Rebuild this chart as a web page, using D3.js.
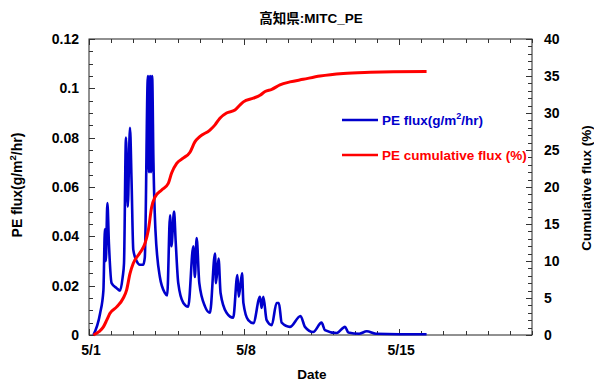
<!DOCTYPE html>
<html>
<head>
<meta charset="utf-8">
<script src="https://cdn.jsdelivr.net/npm/d3@7"></script>
<style>
  html, body { margin: 0; padding: 0; background: #fff; }
  svg { display: block; }
  text { font-family: "Liberation Sans", "Noto Sans CJK JP", sans-serif; font-weight: bold; }
</style>
</head>
<body>
<svg id="chart" width="594" height="383"></svg>
<script>
// Hourly PE flux (g/m2/hr), time in days after 5/1 00:00
const fluxDays = [0.20, 0.50, 0.65, 0.72, 0.76, 0.83, 0.90, 1.02, 1.25, 1.40, 1.52, 1.58,
  1.67, 1.75, 1.85, 1.92, 2.00, 2.15, 2.30, 2.45, 2.52, 2.66, 2.71, 2.76, 2.80, 2.85, 2.91,
  3.00, 3.20, 3.43, 3.53, 3.66, 3.72, 3.84, 3.91, 4.03, 4.26, 4.48, 4.71, 4.78, 4.86, 4.98,
  5.24, 5.46, 5.69, 5.73, 5.85, 5.94, 6.21, 6.51, 6.70, 6.76, 6.91, 6.97, 7.19, 7.42, 7.72,
  7.79, 7.87, 8.02, 8.25, 8.47, 8.57, 8.70, 9.07, 9.55, 9.75, 10.12, 10.50, 10.65, 11.18,
  11.56, 11.71, 12.20, 12.54, 12.95, 14.00, 15.24];
const fluxValues = [0, 0.0087, 0.018, 0.043, 0.030, 0.0535, 0.037, 0.021, 0.019, 0.018, 0.0235, 0.029,
  0.080, 0.052, 0.084, 0.063, 0.0345, 0.030, 0.0285, 0.0285, 0.0315, 0.105, 0.066, 0.105, 0.066, 0.105, 0.070,
  0.0425, 0.0235, 0.017, 0.016, 0.0485, 0.036, 0.050, 0.0385, 0.021, 0.013, 0.0115, 0.036, 0.0235, 0.0393, 0.021,
  0.0115, 0.009, 0.033, 0.021, 0.031, 0.017, 0.009, 0.007, 0.0243, 0.0155, 0.025, 0.013, 0.006, 0.0048, 0.0155,
  0.011, 0.0155, 0.006, 0.004, 0.013, 0.013, 0.005, 0.0033, 0.0077, 0.0033, 0.0012, 0.005, 0.002, 0.0008,
  0.0033, 0.0010, 0.0005, 0.0015, 0.0005, 0.0003, 0.0003];

// Cumulative PE flux (% of applied)
const cumDays = [0.20, 0.45, 0.65, 0.80, 0.94, 1.25, 1.55, 1.70, 1.85, 2.00, 2.30, 2.53, 2.68, 2.83,
  2.98, 3.28, 3.58, 3.73, 3.96, 4.25, 4.56, 4.78, 5.00, 5.46, 5.69, 5.91, 6.21, 6.59, 6.82, 6.97,
  7.42, 7.72, 7.95, 8.25, 8.62, 9.07, 9.67, 10.43, 11.48, 12.69, 13.74, 15.24];
const cumValues = [0, 0.45, 1.1, 2.0, 2.9, 3.8, 5.0, 6.1, 8.3, 9.7, 11.1, 12.4, 14.2, 17.3,
  18.65, 19.6, 20.5, 21.9, 23.2, 23.9, 24.7, 26.1, 26.8, 27.7, 28.4, 29.3, 30.0, 30.4, 31.1, 31.5,
  32.0, 32.4, 32.9, 33.2, 33.8, 34.2, 34.55, 35.0, 35.35, 35.5, 35.57, 35.6];

// Axis ticks and labels
const dateTickDays = [0, 7, 14];
const dateTickLabels = ["5/1", "5/8", "5/15"];
const fluxTicks = [0, 0.02, 0.04, 0.06, 0.08, 0.1, 0.12];
const fluxTickLabels = ["0", "0.02", "0.04", "0.06", "0.08", "0.1", "0.12"];
const cumTicks = [0, 5, 10, 15, 20, 25, 30, 35, 40];

const titleText = "高知県:MITC_PE";
const legendNames = ["PE flux(g/m", "PE cumulative flux (%)"];

const svg = d3.select("#chart");
const L = 89, R = 532, T = 39, B = 335;
const blue = "#0000cc", red = "#ff0000";

const x = d3.scaleLinear().domain([0, 20]).range([L, R]);
const yL = d3.scaleLinear().domain([0, 0.12]).range([B, T]);
const yR = d3.scaleLinear().domain([0, 40]).range([B, T]);

// Frame
svg.append("rect").attr("x", L).attr("y", T).attr("width", R - L).attr("height", B - T)
  .attr("fill", "none").attr("stroke", "#222").attr("stroke-width", 1);

const tickG = svg.append("g").attr("stroke", "#333").attr("stroke-width", 1);
// x ticks: every day, inward on bottom and top
d3.range(0, 21).forEach(d => {
  const len = dateTickDays.includes(d) ? 6 : 4;
  const xp = Math.round(x(d)) + 0.5;
  tickG.append("line").attr("x1", xp).attr("x2", xp).attr("y1", B).attr("y2", B - len);
  tickG.append("line").attr("x1", xp).attr("x2", xp).attr("y1", T).attr("y2", T + len);
});
// left ticks every 0.005
d3.range(0, 25).forEach(i => {
  const v = i * 0.005;
  const yp = Math.round(yL(v)) + 0.5;
  const len = i % 4 === 0 ? 6 : 4;
  tickG.append("line").attr("x1", L).attr("x2", L + len).attr("y1", yp).attr("y2", yp);
});
// right ticks every 1
d3.range(0, 41).forEach(v => {
  const yp = Math.round(yR(v)) + 0.5;
  const len = v % 5 === 0 ? 6 : 4;
  tickG.append("line").attr("x1", R).attr("x2", R - len).attr("y1", yp).attr("y2", yp);
});

// Tick labels
svg.append("g").selectAll("text").data(fluxTicks).join("text")
  .attr("x", 79).attr("y", d => yL(d)).attr("dy", "0.36em")
  .attr("text-anchor", "end").attr("font-size", 14).attr("fill", "#000")
  .text((d, i) => fluxTickLabels[i]);
svg.append("g").selectAll("text").data(cumTicks).join("text")
  .attr("x", 544).attr("y", d => yR(d)).attr("dy", "0.36em")
  .attr("text-anchor", "start").attr("font-size", 14).attr("fill", "#000")
  .text(d => d === 0 ? "0" : d);
svg.append("g").selectAll("text").data(dateTickDays).join("text")
  .attr("x", d => x(d) + 2).attr("y", 355)
  .attr("text-anchor", "middle").attr("font-size", 14).attr("fill", "#000")
  .text((d, i) => dateTickLabels[i]);

// Titles
svg.append("text").attr("x", 311).attr("y", 23).attr("text-anchor", "middle")
  .attr("font-size", 13.5).attr("font-family", "'Noto Sans CJK JP', sans-serif")
  .attr("font-weight", 900)
  .text(titleText);
svg.append("text").attr("x", 312).attr("y", 379).attr("text-anchor", "middle")
  .attr("font-size", 13.5).text("Date");

const yTitle = svg.append("text").attr("transform", "translate(22,185) rotate(-90)")
  .attr("text-anchor", "middle").attr("font-size", 14);
yTitle.append("tspan").text("PE flux(g/m");
yTitle.append("tspan").attr("font-size", 9.5).attr("dy", -6).text("2");
yTitle.append("tspan").attr("dy", 6).text("/hr)");

svg.append("text").attr("transform", "translate(591,188) rotate(-90)")
  .attr("text-anchor", "middle").attr("font-size", 13.5).text("Cumulative flux (%)");

// Series lines
const fluxLine = d3.line().x((d, i) => x(fluxDays[i])).y(d => yL(d)).curve(d3.curveMonotoneX);
const cumLine = d3.line().x((d, i) => x(cumDays[i])).y(d => yR(d)).curve(d3.curveMonotoneX);

svg.append("path").datum(fluxValues).attr("d", fluxLine)
  .attr("fill", "none").attr("stroke", blue).attr("stroke-width", 2.6).attr("stroke-linejoin", "round");
svg.append("path").datum(cumValues).attr("d", cumLine)
  .attr("fill", "none").attr("stroke", red).attr("stroke-width", 3).attr("stroke-linejoin", "round");

// Legend
const legY = [120, 155], legColors = [blue, red];
legY.forEach((ly, i) => {
  svg.append("line").attr("x1", 342).attr("x2", 378).attr("y1", ly).attr("y2", ly)
    .attr("stroke", legColors[i]).attr("stroke-width", 2.5);
  const t = svg.append("text").attr("x", 382).attr("y", ly).attr("dy", "0.4em")
    .attr("font-size", 13.5).attr("fill", legColors[i]);
  if (i === 0) {
    t.append("tspan").text(legendNames[0]);
    t.append("tspan").attr("font-size", 9).attr("dy", -6).text("2");
    t.append("tspan").attr("dy", 6).text("/hr)");
  } else {
    t.text(legendNames[1]);
  }
});
</script>
</body>
</html>
